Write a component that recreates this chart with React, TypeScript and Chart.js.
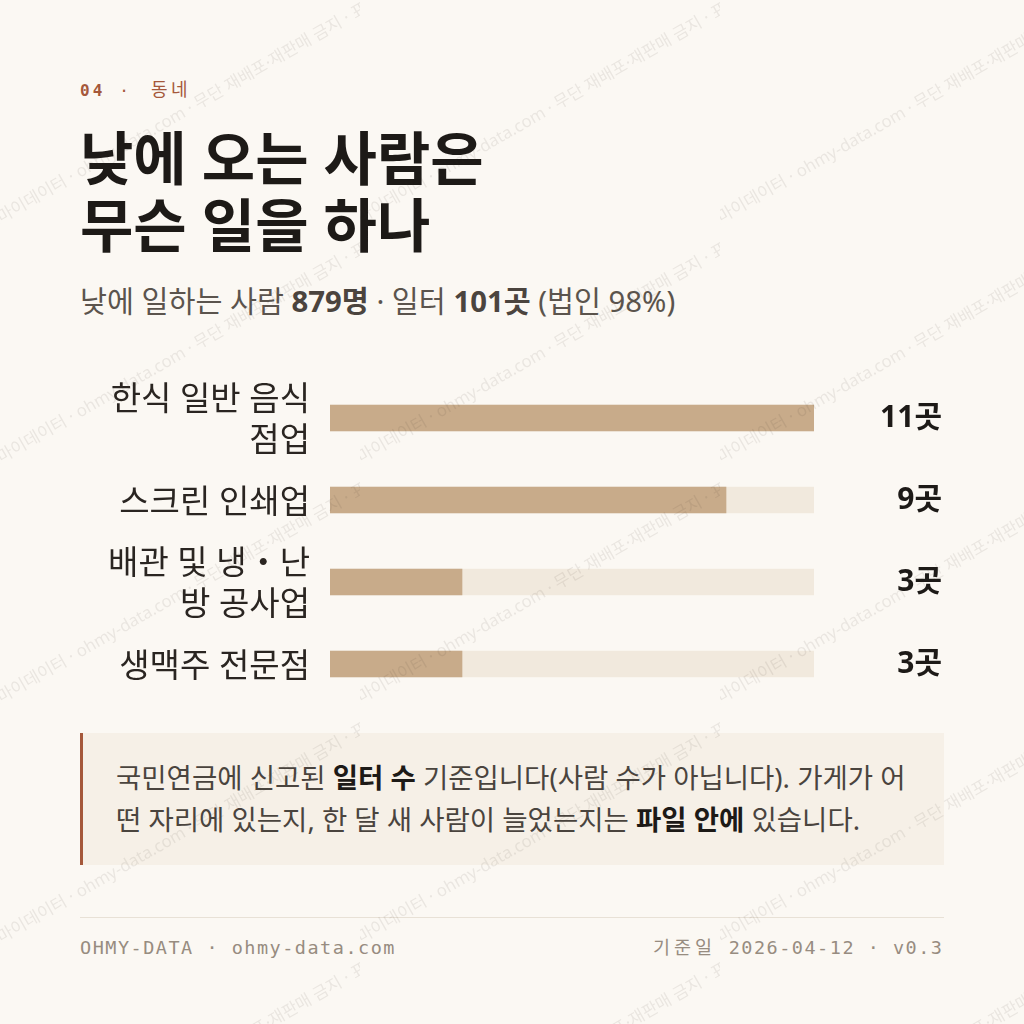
import React, { useEffect, useRef } from "react";
import { Chart, registerables } from "chart.js";

Chart.register(...registerables);

// ---- data ----
const categories: string[][] = [
  ["한식 일반 음식", "점업"],
  ["스크린 인쇄업"],
  ["배관 및 냉・난", "방 공사업"],
  ["생맥주 전문점"],
];
const counts: number[] = [11, 9, 3, 3];
const unitLabel = "곳";
const axisMax = 11;

// ---- styles ----
const SANS = "'Noto Sans', 'Noto Sans CJK KR', sans-serif";
const MONO = "'DejaVu Sans Mono', 'Noto Sans CJK KR', monospace";
const BG = "#fbf8f3";
const FILL = "#c8ab8a";
const TRACK = "#f1e9dd";
const RUST = "#a5583b";
const INK = "#1d1a17";

const wmSvg = `<svg xmlns='http://www.w3.org/2000/svg' width='360' height='240'><text x='-12' y='231' transform='rotate(-30 -12 231)' font-family="'Noto Sans', 'Noto Sans CJK KR'" font-size='16.8' fill='rgba(60,50,40,0.085)'>오마이데이터 · ohmy-data.com · 무단 재배포·재판매 금지 · 표본</text></svg>`;
const wmUrl = `url("data:image/svg+xml;charset=utf-8,${encodeURIComponent(wmSvg)}")`;

const valuePlugin = {
  id: "valueLabels",
  afterDatasetsDraw(chart: any) {
    const { ctx } = chart;
    const y = chart.scales.y;
    ctx.save();
    ctx.font = `700 30px ${SANS}`;
    ctx.fillStyle = INK;
    ctx.textAlign = "right";
    ctx.textBaseline = "middle";
    counts.forEach((v, i) => {
      ctx.fillText(`${v}${unitLabel}`, chart.width - 2, y.getPixelForValue(i));
    });
    ctx.restore();
  },
};

function BarChart() {
  const ref = useRef<HTMLCanvasElement | null>(null);
  useEffect(() => {
    if (!ref.current) return;
    const chart = new Chart(ref.current, {
      type: "bar",
      data: {
        labels: categories as any,
        datasets: [
          {
            data: counts,
            backgroundColor: FILL,
            barThickness: 26,
            grouped: false,
            order: 1,
          } as any,
          {
            data: counts.map(() => axisMax),
            backgroundColor: TRACK,
            barThickness: 26,
            grouped: false,
            order: 2,
          } as any,
        ],
      },
      options: {
        indexAxis: "y",
        animation: false,
        responsive: false,
        maintainAspectRatio: false,
        layout: { padding: { left: 0, right: 130, top: 20, bottom: 20 } },
        plugins: { legend: { display: false }, tooltip: { enabled: false } },
        scales: {
          x: { display: false, min: 0, max: axisMax },
          y: {
            grid: { display: false, drawTicks: false },
            border: { display: false },
            ticks: {
              color: "#2a2521",
              font: { family: SANS, size: 33, lineHeight: 1.24 },
              padding: 20,
              labelOffset: 3.5,
              autoSkip: false,
            },
            afterFit: (s: any) => {
              s.width = 250;
              s.paddingTop = 0;
              s.paddingBottom = 0;
            },
          },
        },
      },
      plugins: [valuePlugin],
    });
    return () => chart.destroy();
  }, []);
  return (
    <canvas
      ref={ref}
      width={864}
      height={368}
      style={{ position: "absolute", left: 80, top: 357, width: 864, height: 368 }}
    />
  );
}

export default function App() {
  return (
    <div
      style={{
        position: "absolute",
        left: 0,
        top: 0,
        width: 1024,
        height: 1024,
        background: BG,
        overflow: "hidden",
        fontFamily: SANS,
      }}
    >
      <div
        style={{
          position: "absolute",
          left: 80,
          top: 78,
          fontFamily: MONO,
          fontSize: 16,
          color: RUST,
          lineHeight: "24px",
          whiteSpace: "nowrap",
        }}
      >
        <span style={{ fontWeight: 700, letterSpacing: 3 }}>04</span>
        <span style={{ marginLeft: 14 }}>·</span>
        <span style={{ marginLeft: 22, fontSize: 18, letterSpacing: 3.5 }}>동네</span>
      </div>
      <div
        style={{
          position: "absolute",
          left: 80,
          top: 124,
          fontSize: 58,
          fontWeight: 700,
          lineHeight: "67px",
          color: INK,
          whiteSpace: "nowrap",
        }}
      >
        낮에 오는 사람은
        <br />
        무슨 일을 하나
      </div>
      <div
        style={{
          position: "absolute",
          left: 80,
          top: 283,
          fontSize: 29.3,
          lineHeight: "36px",
          color: "#5b544d",
          whiteSpace: "nowrap",
        }}
      >
        낮에 일하는 사람 <b style={{ color: "#4b443e" }}>879명</b> · 일터{" "}
        <b style={{ color: "#4b443e" }}>101곳</b> (법인 98%)
      </div>

      <BarChart />

      <div
        style={{
          position: "absolute",
          left: 80,
          top: 733,
          width: 864,
          height: 132,
          boxSizing: "border-box",
          background: "#f6f0e7",
          borderLeft: `3px solid ${RUST}`,
          padding: "24px 0 0 33px",
          fontSize: 27.5,
          lineHeight: "42px",
          color: "#4a443e",
          whiteSpace: "nowrap",
        }}
      >
        국민연금에 신고된 <b style={{ color: INK }}>일터 수</b> 기준입니다(사람 수가 아닙니다). 가게가 어
        <br />떤 자리에 있는지, 한 달 새 사람이 늘었는지는 <b style={{ color: INK }}>파일 안에</b> 있습니다.
      </div>

      <div
        style={{
          position: "absolute",
          left: 80,
          top: 917,
          width: 864,
          height: 1,
          background: "#e8e1d6",
        }}
      />
      <div
        style={{
          position: "absolute",
          left: 80,
          top: 936,
          fontFamily: MONO,
          fontSize: 18.5,
          letterSpacing: 1.5,
          color: "#978c80",
          lineHeight: "24px",
          whiteSpace: "nowrap",
        }}
      >
        OHMY-DATA · ohmy-data.com
      </div>
      <div
        style={{
          position: "absolute",
          right: 80,
          top: 936,
          fontFamily: MONO,
          fontSize: 18.5,
          letterSpacing: 1.5,
          color: "#978c80",
          lineHeight: "24px",
          whiteSpace: "nowrap",
          marginRight: 0.5,
        }}
      >
        <span style={{ letterSpacing: 4 }}>기준일</span> 2026-04-12 · v0.3
      </div>

      <div
        style={{
          position: "absolute",
          left: 0,
          top: 0,
          width: 1024,
          height: 1024,
          backgroundImage: wmUrl,
          backgroundRepeat: "repeat",
          pointerEvents: "none",
        }}
      />
    </div>
  );
}
